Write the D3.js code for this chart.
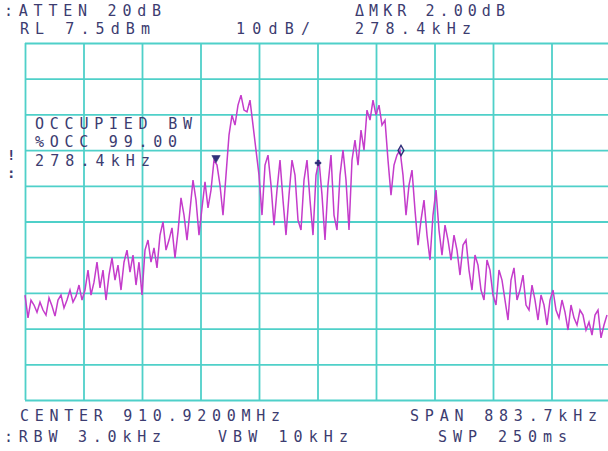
<!DOCTYPE html>
<html>
<head>
<meta charset="utf-8">
<script src="https://cdn.jsdelivr.net/npm/d3@7"></script>
<style>
  html, body { margin: 0; padding: 0; background: #ffffff; }
  svg { display: block; }
  .lbl { font-family: "DejaVu Sans Mono", monospace; font-size: 15px; fill: #3c3c70; }
</style>
</head>
<body>
<svg id="chart" width="608" height="451"></svg>
<script>
// ---- instrument settings ----
const centerMHz = 910.92;
const spanKHz = 883.7;
const refLevel = 7.5;      // dBm (top of screen)
const dbPerDiv = 10;
const xDivisions = [0,1,2,3,4,5,6,7,8,9,10];
const yDivisions = [0,1,2,3,4,5,6,7,8,9,10];

const traceDbm = [
  -63.1,-69.5,-64.5,-65.9,-67.9,-65.1,-67.3,-68.7,-63.9,-66.2,
  -69.0,-64.5,-63.1,-66.7,-64.5,-61.7,-65.1,-63.4,-60.3,-64.5,
  -61.7,-56.1,-63.1,-59.5,-53.9,-61.1,-56.1,-64.5,-57.5,-52.7,
  -58.9,-54.7,-61.7,-53.9,-50.5,-56.7,-51.9,-60.3,-53.9,-63.1,
  -50.5,-47.7,-53.9,-49.9,-55.5,-46.3,-42.6,-50.5,-47.7,-44.3,
  -52.7,-45.4,-35.9,-40.7,-47.7,-39.3,-30.9,-36.5,-46.3,-38.7,
  -31.4,-38.7,-33.7,-25.3,-26.7,-32.3,-40.7,-29.5,-18.3,-12.7,
  -15.5,-9.9,-7.1,-11.3,-11.8,-8.5,-15.5,-22.5,-29.5,-40.7,
  -26.7,-23.9,-32.3,-43.5,-33.7,-25.3,-36.5,-46.3,-35.1,-25.3,
  -29.5,-42.1,-44.9,-30.9,-25.3,-36.5,-46.3,-29.5,-25.3,-35.1,
  -47.7,-32.3,-23.9,-40.7,-44.9,-29.5,-22.5,-30.9,-44.9,-25.3,
  -19.7,-26.7,-16.9,-22.5,-11.3,-14.1,-8.5,-12.7,-9.9,-15.5,
  -14.1,-25.3,-35.1,-26.7,-23.9,-22.5,-29.5,-40.7,-32.3,-28.1,
  -39.3,-49.1,-42.1,-36.5,-46.3,-53.3,-40.7,-33.7,-44.9,-51.9,
  -43.5,-47.7,-53.3,-46.3,-50.5,-57.5,-49.1,-47.7,-56.1,-61.7,
  -51.9,-54.7,-61.7,-64.5,-53.3,-56.1,-63.1,-65.9,-56.1,-58.9,
  -64.5,-70.1,-58.9,-55.5,-64.5,-61.7,-57.5,-65.9,-67.3,-60.3,
  -64.5,-70.1,-63.1,-65.9,-71.5,-64.5,-61.7,-67.3,-69.5,-64.5,
  -67.9,-72.9,-65.9,-69.5,-71.5,-67.3,-68.7,-72.9,-70.7,-74.3,
  -68.7,-67.3,-75.1,-71.5,-68.7
];

// ---- markers: frequency offset (kHz from center), level (dBm) ----
const markerNames = ["ref", "center", "delta"];
const markerOffsetKHz = [-153.3, 0.8, 126.1];
const markerDbm = [-24.7, -26.1, -22.6];

// ---- annotation texts ----
const topTexts = [":ATTEN 20dB", "RL 7.5dBm", "10dB/", "\u0394MKR 2.00dB", "278.4kHz"];
const boxTexts = ["OCCUPIED BW", "%OCC 99.00", "278.4kHz"];
const bottomTexts = ["CENTER 910.9200MHz", "SPAN 883.7kHz", ":RBW 3.0kHz", "VBW 10kHz", "SWP 250ms"];

// ---- layout ----
const svg = d3.select("#chart");
const plot = { left: 25, right: 610, top: 43, bottom: 400 };

const x = d3.scaleLinear()
  .domain([-spanKHz / 2, spanKHz / 2])
  .range([plot.left, plot.right]);
const y = d3.scaleLinear()
  .domain([refLevel - dbPerDiv * 10, refLevel])
  .range([plot.bottom, plot.top]);

const gridColor = "#4fd0c9";

// vertical grid via bottom axis
const xGrid = d3.axisBottom(x)
  .tickValues(xDivisions.map(d => -spanKHz / 2 + d * spanKHz / 10))
  .tickSize(-(plot.bottom - plot.top))
  .tickFormat("");
svg.append("g")
  .attr("transform", `translate(0,${plot.bottom})`)
  .call(xGrid)
  .call(g => g.select(".domain").remove())
  .call(g => g.selectAll("line").attr("stroke", gridColor).attr("stroke-width", 1.8));

// horizontal grid via left axis
const yGrid = d3.axisLeft(y)
  .tickValues(yDivisions.map(d => refLevel - d * dbPerDiv))
  .tickSize(-(plot.right - plot.left))
  .tickFormat("");
svg.append("g")
  .attr("transform", `translate(${plot.left},0)`)
  .call(yGrid)
  .call(g => g.select(".domain").remove())
  .call(g => g.selectAll("line").attr("stroke", gridColor).attr("stroke-width", 1.8));

// trace
const stepKHz = spanKHz / traceDbm.length;
const pts = traceDbm.map((v, i) => [-spanKHz / 2 + i * stepKHz, v]);
const line = d3.line().x(d => x(d[0])).y(d => y(d[1]));
svg.append("path")
  .datum(pts)
  .attr("d", line)
  .attr("fill", "none")
  .attr("stroke", "#c43ccb")
  .attr("stroke-width", 1.5)
  .attr("stroke-linejoin", "miter");

// markers
const markerColor = "#30307a";
const mk = markerNames.map((n, i) => ({ n, f: markerOffsetKHz[i], v: markerDbm[i] }));
svg.selectAll("path.mk")
  .data(mk)
  .join("path")
  .attr("class", "mk")
  .attr("transform", d => `translate(${x(d.f)},${y(d.v)})` + (d.n === "ref" ? " rotate(180)" : ""))
  .attr("d", d => d3.symbol()
      .type(d.n === "ref" ? d3.symbolTriangle : d.n === "center" ? d3.symbolCross : d3.symbolDiamond)
      .size(d.n === "center" ? 18 : 30)())
  .attr("fill", d => d.n === "delta" ? "none" : markerColor)
  .attr("stroke", markerColor)
  .attr("stroke-width", d => d.n === "delta" ? 1.4 : 0.6);

// texts
function addText(str, xp, yp, len) {
  svg.append("text")
    .attr("class", "lbl")
    .attr("x", xp).attr("y", yp)
    .attr("textLength", len)
    .attr("lengthAdjust", "spacing")
    .text(str);
}
addText(topTexts[0], 4, 16, 157);
addText(topTexts[1], 20, 34, 130);
addText(topTexts[2], 236, 34, 74);
addText(topTexts[3], 355, 16, 150);
addText(topTexts[4], 355, 34, 116);

addText(boxTexts[0], 35, 129, 157);
addText(boxTexts[1], 35, 147, 142);
addText(boxTexts[2], 35, 166, 115);

addText(bottomTexts[0], 20, 421, 260);
addText(bottomTexts[1], 410, 421, 187);
addText(bottomTexts[2], 4, 442, 157);
addText(bottomTexts[3], 218, 442, 130);
addText(bottomTexts[4], 438, 442, 129);

// small side marks
svg.append("text").attr("class", "lbl").attr("x", 7).attr("y", 160).style("font-size", "14px").style("font-weight", "bold").text("!");
svg.append("text").attr("class", "lbl").attr("x", 7).attr("y", 178).style("font-size", "14px").style("font-weight", "bold").text(":");
</script>
</body>
</html>
